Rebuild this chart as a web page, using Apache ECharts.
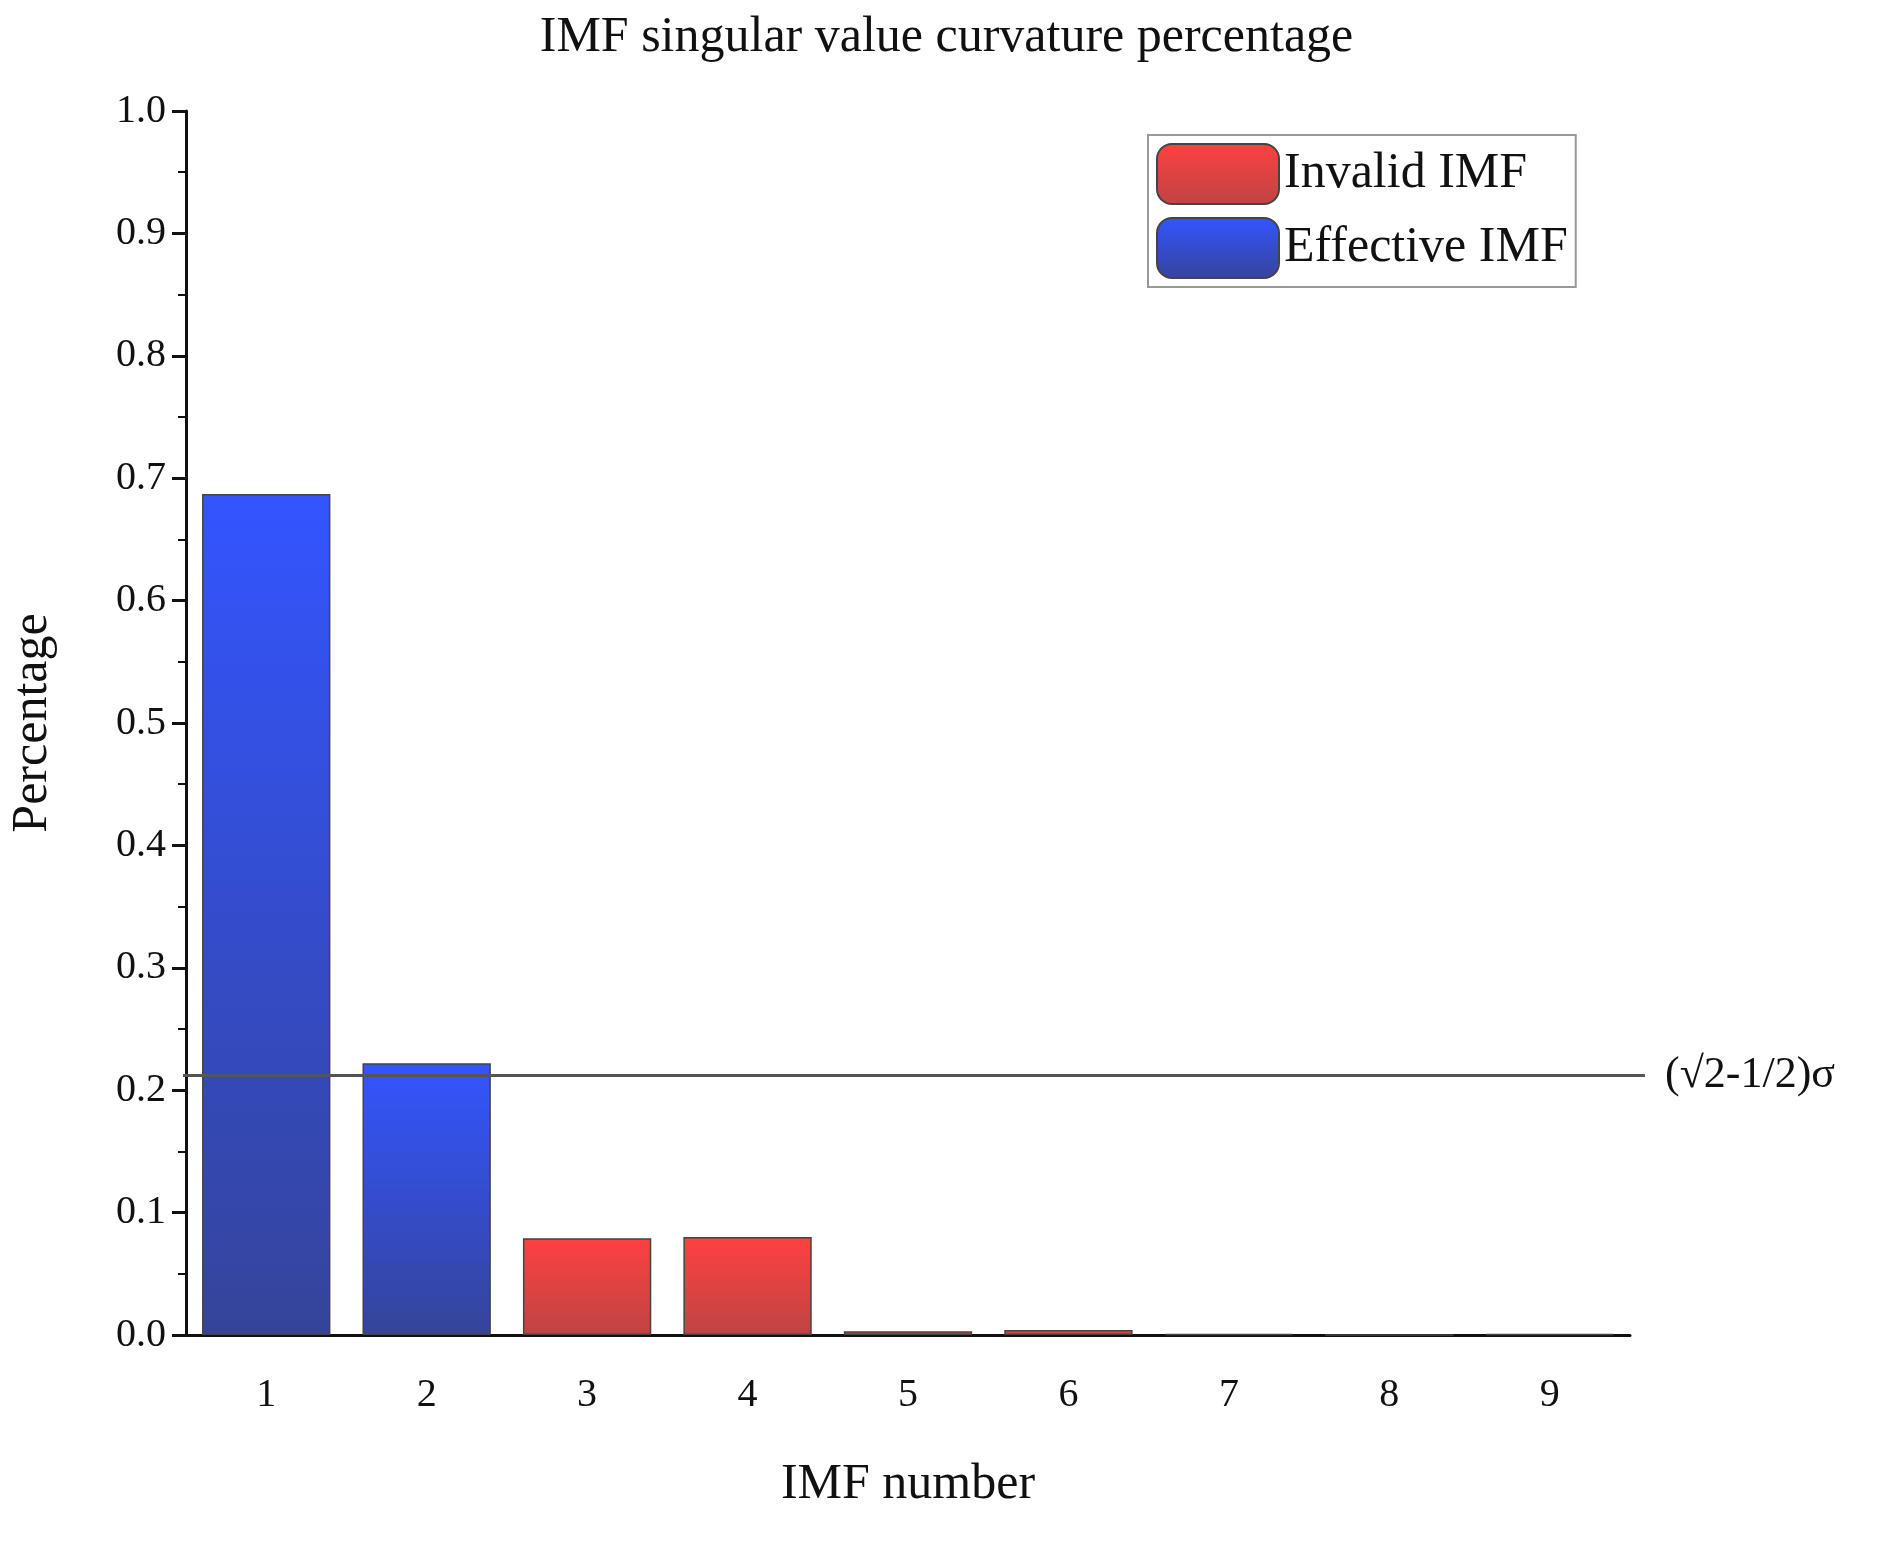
<!DOCTYPE html>
<html lang="en">
<head>
    <meta charset="UTF-8">
    <title>IMF singular value curvature percentage</title>
    <style>
        html, body { margin: 0; padding: 0; background: #fff; }
        #chart1 { width: 1893px; height: 1550px; }
    </style>
</head>
<body>
<div id="chart1"></div>
<script src="https://cdn.jsdelivr.net/npm/echarts@6/dist/echarts.min.js"></script>
<script type="text/javascript">
    var categories = ['1', '2', '3', '4', '5', '6', '7', '8', '9'];
    var effective = [0.687, 0.222, null, null, null, null, null, null, null];
    var invalid = [null, null, 0.079, 0.080, 0.003, 0.004, 0.001, 0, 0.001];
    var threshold = 0.212;

    var font = 'Liberation Serif, Times New Roman, serif';
    var blueGrad = new echarts.graphic.LinearGradient(0, 0, 0, 1, [
        {offset: 0, color: '#3355ff'}, {offset: 1, color: '#35449a'}
    ]);
    var redGrad = new echarts.graphic.LinearGradient(0, 0, 0, 1, [
        {offset: 0, color: '#ff4040'}, {offset: 1, color: '#bf4444'}
    ]);

    var chart1 = echarts.init(document.getElementById('chart1'));
    chart1.setOption({
        animation: false,
        title: {
            text: 'IMF singular value curvature percentage',
            left: 'center',
            top: 8,
            textStyle: {fontFamily: font, fontWeight: 'normal', fontSize: 50, color: '#111'}
        },
        legend: {
            data: ['Invalid IMF', 'Effective IMF'],
            orient: 'vertical',
            left: 1148,
            top: 135,
            itemWidth: 122,
            itemHeight: 60,
            itemGap: 12,
            padding: [8, 8, 8, 8],
            borderColor: '#999',
            borderWidth: 2,
            textStyle: {fontFamily: font, fontSize: 50, color: '#111'}
        },
        grid: {left: 183, right: 263, top: 111, bottom: 215, containLabel: false},
        xAxis: {
            type: 'category',
            data: categories,
            name: 'IMF number',
            nameLocation: 'middle',
            nameGap: 125,
            nameTextStyle: {fontFamily: font, fontSize: 50, color: '#111'},
            axisLine: {lineStyle: {color: '#111', width: 3}},
            axisTick: {show: false},
            axisLabel: {fontFamily: font, fontSize: 40, color: '#111', margin: 40}
        },
        yAxis: {
            type: 'value',
            min: 0,
            max: 1,
            interval: 0.1,
            name: 'Percentage',
            nameLocation: 'middle',
            nameGap: 128,
            nameTextStyle: {fontFamily: font, fontSize: 50, color: '#111'},
            axisLine: {show: true, lineStyle: {color: '#111', width: 3}},
            axisTick: {show: true, inside: false, length: 14, lineStyle: {width: 3}},
            minorTick: {show: true, splitNumber: 2, length: 8, lineStyle: {color: '#111', width: 2}},
            splitLine: {show: false},
            axisLabel: {fontFamily: font, fontSize: 40, color: '#111', margin: 20,
                formatter: function (v) { return v.toFixed(1); }}
        },
        series: [{
            name: 'Invalid IMF',
            type: 'bar',
            data: invalid,
            barWidth: '80%',
            barGap: '-100%',
            itemStyle: {color: redGrad, borderColor: '#444', borderWidth: 1.5}
        }, {
            name: 'Effective IMF',
            type: 'bar',
            data: effective,
            barWidth: '80%',
            itemStyle: {color: blueGrad, borderColor: '#444', borderWidth: 1.5},
            markLine: {
                symbol: 'none',
                silent: true,
                lineStyle: {color: '#555', width: 3, type: 'solid'},
                label: {position: 'end', formatter: '(√2-1/2)σ', fontFamily: font, fontSize: 44, color: '#111', distance: 20},
                data: [[{xAxis: 0, yAxis: threshold, x: 183}, {yAxis: threshold, x: 1645}]]
            }
        }]
    });
</script>
</body>
</html>
